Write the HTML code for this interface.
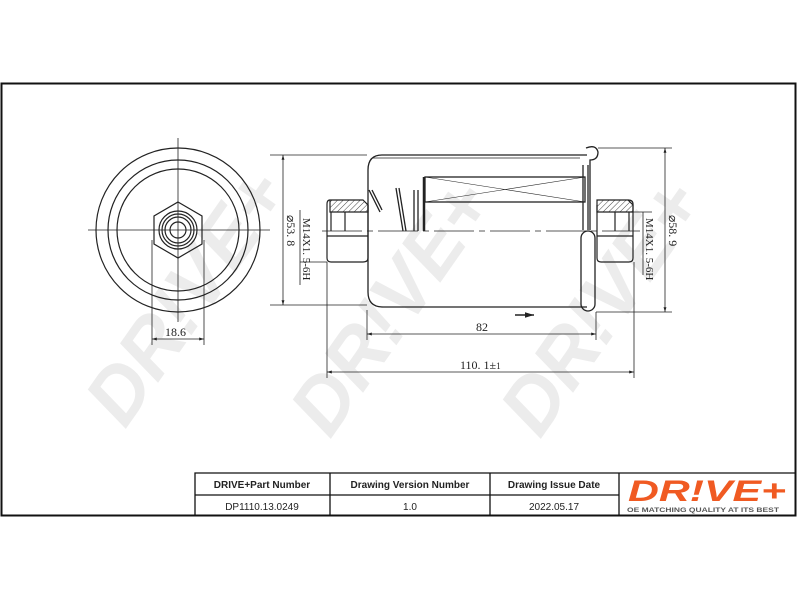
<!DOCTYPE html>
<html><head><meta charset="utf-8"><style>
html,body{margin:0;padding:0;background:#fff;}
svg{display:block;}
text{font-family:"Liberation Serif",serif;fill:#222;}
.s{font-family:"Liberation Sans",sans-serif;}
text.wm{fill:#ececec;font-family:"Liberation Sans",sans-serif;font-weight:bold;font-size:78px;font-style:italic;}
</style></head><body>
<svg width="800" height="600" viewBox="0 0 800 600" xmlns="http://www.w3.org/2000/svg">
<defs>
<pattern id="h" width="4" height="4" patternUnits="userSpaceOnUse" patternTransform="rotate(45)">
<line x1="0" y1="0" x2="0" y2="4" stroke="#444" stroke-width="1"/></pattern>
<marker id="a" viewBox="0 0 10 10" refX="10" refY="5" markerWidth="6" markerHeight="6" orient="auto-start-reverse"><path d="M0,2 L10,5 L0,8 z" fill="#222"/></marker>
</defs>
<!-- watermarks -->
<text class="wm" transform="translate(125,430) rotate(-55)">DR!VE+</text>
<text class="wm" transform="translate(330,440) rotate(-55)">DR!VE+</text>
<text class="wm" transform="translate(540,440) rotate(-55)">DR!VE+</text>
<!-- frame -->
<rect x="1.5" y="83.5" width="794" height="432" fill="none" stroke="#111" stroke-width="2"/>
<!-- left view -->
<g fill="none" stroke="#222" stroke-width="1.2">
<circle cx="178" cy="230" r="82"/>
<circle cx="178" cy="230" r="70"/>
<circle cx="178" cy="230" r="61"/>
<polygon points="178,202 202,216 202,244 178,258 154,244 154,216"/>
<circle cx="178" cy="230" r="19"/>
<circle cx="178" cy="230" r="16"/>
<circle cx="178" cy="230" r="13"/>
<circle cx="178" cy="230" r="8"/>
<line x1="178" y1="138" x2="178" y2="322" stroke-width="0.8"/>
<line x1="88" y1="230" x2="270" y2="230" stroke-width="0.8"/>
<line x1="152" y1="240" x2="152" y2="345" stroke-width="0.8"/>
<line x1="204" y1="240" x2="204" y2="345" stroke-width="0.8"/>
<line x1="152" y1="339" x2="204" y2="339" stroke-width="0.8" marker-start="url(#a)" marker-end="url(#a)"/>
</g>
<text x="165" y="336" font-size="12">18.6</text>
<!-- left dims -->
<g stroke="#222" stroke-width="0.8" fill="none">
<line x1="270" y1="155" x2="367" y2="155"/>
<line x1="270" y1="305" x2="367" y2="305"/>
<line x1="283" y1="155" x2="283" y2="305" marker-start="url(#a)" marker-end="url(#a)"/>
<line x1="300" y1="262" x2="327" y2="262"/>
<line x1="300" y1="210" x2="300" y2="285"/>
<line x1="327" y1="262" x2="327" y2="378"/>
</g>
<text transform="translate(287,215) rotate(90)" font-size="12">⌀53. 8</text>
<text transform="translate(303,218) rotate(90)" font-size="11">M14X1. 5-6H</text>
<!-- body -->
<g fill="none" stroke="#222" stroke-width="1.3">
<path d="M587,155 L382,155 Q368,155 368,170 L368,292 Q368,307 383,307 L587,307"/>
<path d="M373,158 L580,158" stroke-width="0.8"/>
<path d="M586,148 Q596,144 598,152 Q598,160 590,160 L590,230"/>
<rect x="581" y="231" width="14" height="80" rx="7"/>
<line x1="583" y1="165" x2="583" y2="230"/>
<line x1="588" y1="165" x2="588" y2="230"/>
<rect x="425" y="177" width="160" height="25"/>
<line x1="425" y1="177" x2="585" y2="202" stroke-width="0.6"/>
<line x1="425" y1="202" x2="585" y2="177" stroke-width="0.6"/>
<line x1="424" y1="177" x2="424" y2="231" stroke-width="2.5"/>
<line x1="418" y1="190" x2="418" y2="231"/>
<line x1="414" y1="190" x2="414" y2="231"/>
<line x1="396" y1="188" x2="403" y2="231"/>
<line x1="399" y1="188" x2="406" y2="231"/>
<line x1="369" y1="190" x2="380" y2="212"/>
<line x1="372" y1="190" x2="382" y2="210"/>
<line x1="322" y1="231" x2="640" y2="231" stroke-width="0.7" stroke-dasharray="40,5,6,5"/>
</g>
<!-- nuts -->
<g stroke="#222" stroke-width="1.2">
<path d="M330,200 L363,200 L368,205 L368,212 L330,212 Z" fill="url(#h)"/>
<path d="M330,200 Q327,200 327,204 L327,258 Q327,262 331,262 L363,262 Q368,262 368,258 L368,205" fill="none"/>
<line x1="327" y1="236" x2="368" y2="236" fill="none"/>
<line x1="331" y1="212" x2="331" y2="231"/>
<line x1="345" y1="212" x2="345" y2="231"/>
<path d="M597,200 L628,200 L633,205 L633,212 L597,212 Z" fill="url(#h)"/>
<path d="M628,200 Q633,200 633,204 L633,258 Q633,262 629,262 L601,262 Q597,262 597,258 L597,205" fill="none"/>
<line x1="597" y1="236" x2="633" y2="236"/>
<line x1="629" y1="212" x2="629" y2="231"/>
<line x1="615" y1="212" x2="615" y2="231"/>
</g>
<!-- right dims -->
<g stroke="#222" stroke-width="0.8" fill="none">
<line x1="598" y1="148" x2="672" y2="148"/>
<line x1="596" y1="312" x2="672" y2="312"/>
<line x1="665" y1="148" x2="665" y2="312" marker-start="url(#a)" marker-end="url(#a)"/>
<line x1="633" y1="212" x2="652" y2="212"/>
<line x1="643" y1="212" x2="643" y2="275"/>
<line x1="634" y1="262" x2="634" y2="378"/>
<line x1="367" y1="310" x2="367" y2="340"/>
<line x1="596" y1="312" x2="596" y2="340"/>
<line x1="367" y1="334" x2="596" y2="334" marker-start="url(#a)" marker-end="url(#a)"/>
<line x1="327" y1="372" x2="634" y2="372" marker-start="url(#a)" marker-end="url(#a)"/>
<line x1="515" y1="315" x2="534" y2="315" stroke-width="1.5" marker-end="url(#a)"/>
</g>
<text transform="translate(669,215) rotate(90)" font-size="12">⌀58. 9</text>
<text transform="translate(646,218) rotate(90)" font-size="11">M14X1. 5-6H</text>
<text x="476" y="331" font-size="12">82</text>
<text x="460" y="369" font-size="12">110. 1±<tspan font-size="9">1</tspan></text>
<!-- table -->
<g stroke="#111" stroke-width="1.3" fill="none">
<polyline points="195,516 195,473 796,473"/>
<line x1="195" y1="495" x2="619" y2="495"/>
<line x1="330" y1="473" x2="330" y2="516"/>
<line x1="490" y1="473" x2="490" y2="516"/>
<line x1="619" y1="473" x2="619" y2="516"/>
</g>
<g font-size="10" text-anchor="middle">
<text class="s" x="262" y="488" font-weight="bold">DRIVE+Part Number</text>
<text class="s" x="410" y="488" font-weight="bold">Drawing Version Number</text>
<text class="s" x="554" y="488" font-weight="bold">Drawing Issue Date</text>
<text class="s" x="262" y="510">DP1110.13.0249</text>
<text class="s" x="410" y="510">1.0</text>
<text class="s" x="554" y="510">2022.05.17</text>
</g>
<text class="s" x="707" y="501" text-anchor="middle" font-size="30" font-weight="bold" font-style="italic" style="fill:#f05a22" textLength="158" lengthAdjust="spacingAndGlyphs">DR!VE+</text>
<text class="s" x="703" y="512" text-anchor="middle" font-size="6.5" font-weight="bold" style="fill:#555" textLength="152" lengthAdjust="spacingAndGlyphs">OE MATCHING QUALITY AT ITS BEST</text>
</svg>
</body></html>
